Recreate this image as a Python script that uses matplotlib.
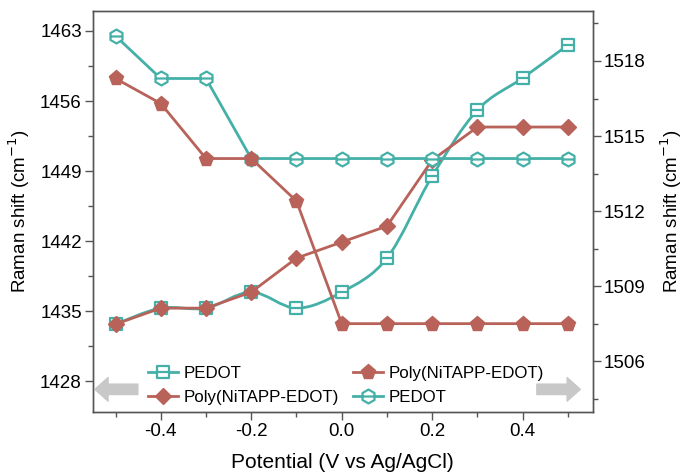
import numpy as np
import matplotlib
matplotlib.use("Agg")
import matplotlib.pyplot as plt
from matplotlib.path import Path
from matplotlib.patches import PathPatch
from matplotlib.ticker import MultipleLocator

plt.rcParams['font.family'] = ['Liberation Sans', 'DejaVu Sans']

# data
potential = [-0.5, -0.4, -0.3, -0.2, -0.1, 0.0, 0.1, 0.2, 0.3, 0.4, 0.5]
# left axis
pedot_sq = [1433.7, 1435.3, 1435.3, 1436.9, 1435.3, 1436.9, 1440.3, 1448.5, 1455.1, 1458.3, 1461.6]
poly_dia = [1433.7, 1435.3, 1435.3, 1436.9, 1440.3, 1441.9, 1443.5, 1450.1, 1453.4, 1453.4, 1453.4]
# right axis
poly_pent = [1517.3, 1516.3, 1514.1, 1514.1, 1512.4, 1507.5, 1507.5, 1507.5, 1507.5, 1507.5, 1507.5]
pedot_hex = [1519.0, 1517.3, 1517.3, 1514.1, 1514.1, 1514.1, 1514.1, 1514.1, 1514.1, 1514.1, 1514.1]

teal = '#45b0a8'
brown = '#b8625a'
fs = 13.5
lw = 2.0

fig = plt.figure(figsize=(6.83, 4.76), dpi=100)
ax = fig.add_axes([0.136, 0.134, 0.732, 0.843])
ax2 = ax.twinx()

# marker shapes with a bar across the middle
sq_verts = [(-1, -1), (1, -1), (1, 1), (-1, 1), (-1, -1), (-1, 0), (1, 0)]
sq_codes = [Path.MOVETO, Path.LINETO, Path.LINETO, Path.LINETO, Path.CLOSEPOLY, Path.MOVETO, Path.LINETO]
sq_marker = Path(sq_verts, sq_codes)
ang = np.deg2rad(np.arange(90, 450, 60))
hx = [(np.cos(a), np.sin(a)) for a in ang]
hex_verts = hx + [hx[0], (-0.87, 0), (0.87, 0)]
hex_codes = [Path.MOVETO] + [Path.LINETO] * 5 + [Path.CLOSEPOLY, Path.MOVETO, Path.LINETO]
hex_marker = Path(hex_verts, hex_codes)


def smooth_path(xs, ys):
    # catmull-rom through the points, drawn as cubic bezier pieces
    pts = np.column_stack([xs, ys])
    verts = [pts[0]]
    codes = [Path.MOVETO]
    n = len(pts)
    for i in range(n - 1):
        p0 = pts[max(i - 1, 0)]
        p1 = pts[i]
        p2 = pts[i + 1]
        p3 = pts[min(i + 2, n - 1)]
        verts += [p1 + (p2 - p0) / 6, p2 - (p3 - p1) / 6, p2]
        codes += [Path.CURVE4] * 3
    return Path(verts, codes)


sq_style = dict(marker=sq_marker, ms=8, mfc='white', mec=teal, mew=1.6)

# PEDOT squares (smoothed line)
ax.add_patch(PathPatch(smooth_path(potential, pedot_sq), fc='none', ec=teal, lw=lw, zorder=2))
ax.plot(potential, pedot_sq, ls='none', zorder=3, **sq_style)
sq_leg, = ax.plot([], [], color=teal, lw=lw, **sq_style)

dia_line, = ax.plot(potential, poly_dia, color=brown, lw=lw, marker='D', ms=8, mfc=brown, mec=brown, zorder=3)

hex_line, = ax2.plot(potential, pedot_hex, color=teal, lw=lw, marker=hex_marker, ms=10, mfc='white', mec=teal, mew=1.6, zorder=2)
pent_line, = ax2.plot(potential, poly_pent, color=brown, lw=lw, marker='p', ms=11, mfc=brown, mec=brown, zorder=3)

ax.set_xlim(-0.55, 0.555)
ax.set_ylim(1424.9, 1465)
ax2.set_ylim(1503.96, 1520)

ax.xaxis.set_major_locator(MultipleLocator(0.2))
ax.xaxis.set_minor_locator(MultipleLocator(0.1))
ax.yaxis.set_major_locator(MultipleLocator(7))
ax.yaxis.set_minor_locator(MultipleLocator(3.5))
ax2.yaxis.set_major_locator(MultipleLocator(3))
ax2.yaxis.set_minor_locator(MultipleLocator(1.5))
ax.set_xticks([-0.4, -0.2, 0.0, 0.2, 0.4])
ax.set_xticklabels(['-0.4', '-0.2', '0.0', '0.2', '0.4'])

for a in (ax, ax2):
    a.tick_params(which='major', length=6, width=1, color='#555555', labelsize=fs, pad=2)
    a.tick_params(which='minor', length=3.5, width=1, color='#555555')
    for s in a.spines.values():
        s.set_color('#555555')
        s.set_linewidth(1)

ax.set_xlabel('Potential (V vs Ag/AgCl)', fontsize=15, labelpad=9)
ax.set_ylabel('Raman shift (cm$^{-1}$)', fontsize=fs, labelpad=6)
ax2.set_ylabel('Raman shift (cm$^{-1}$)', fontsize=fs, labelpad=9, rotation=90)

# legends
leg_kw = dict(loc='upper left', frameon=False, fontsize=12.2, handlelength=1.8,
              handletextpad=0.3, labelspacing=0.55, borderpad=0, borderaxespad=0)
leg1 = ax2.legend([sq_leg, dia_line], ['PEDOT', 'Poly(NiTAPP-EDOT)'],
                  bbox_to_anchor=(0.11, 0.115), **leg_kw)
ax2.add_artist(leg1)
ax2.legend([pent_line, hex_line], ['Poly(NiTAPP-EDOT)', 'PEDOT'],
           bbox_to_anchor=(0.52, 0.115), **leg_kw)

# gray arrows pointing to each axis
arrow = dict(arrowstyle='simple,head_width=1.7,head_length=0.95,tail_width=0.75',
             color='#c8c8c8', mutation_scale=10, shrinkA=0, shrinkB=0)
ax2.annotate('', xy=(0.004, 0.057), xytext=(0.09, 0.057), xycoords='axes fraction',
             textcoords='axes fraction', arrowprops=arrow)
ax2.annotate('', xy=(0.975, 0.057), xytext=(0.888, 0.057), xycoords='axes fraction',
             textcoords='axes fraction', arrowprops=arrow)

fig.savefig('out.png', dpi=100)
